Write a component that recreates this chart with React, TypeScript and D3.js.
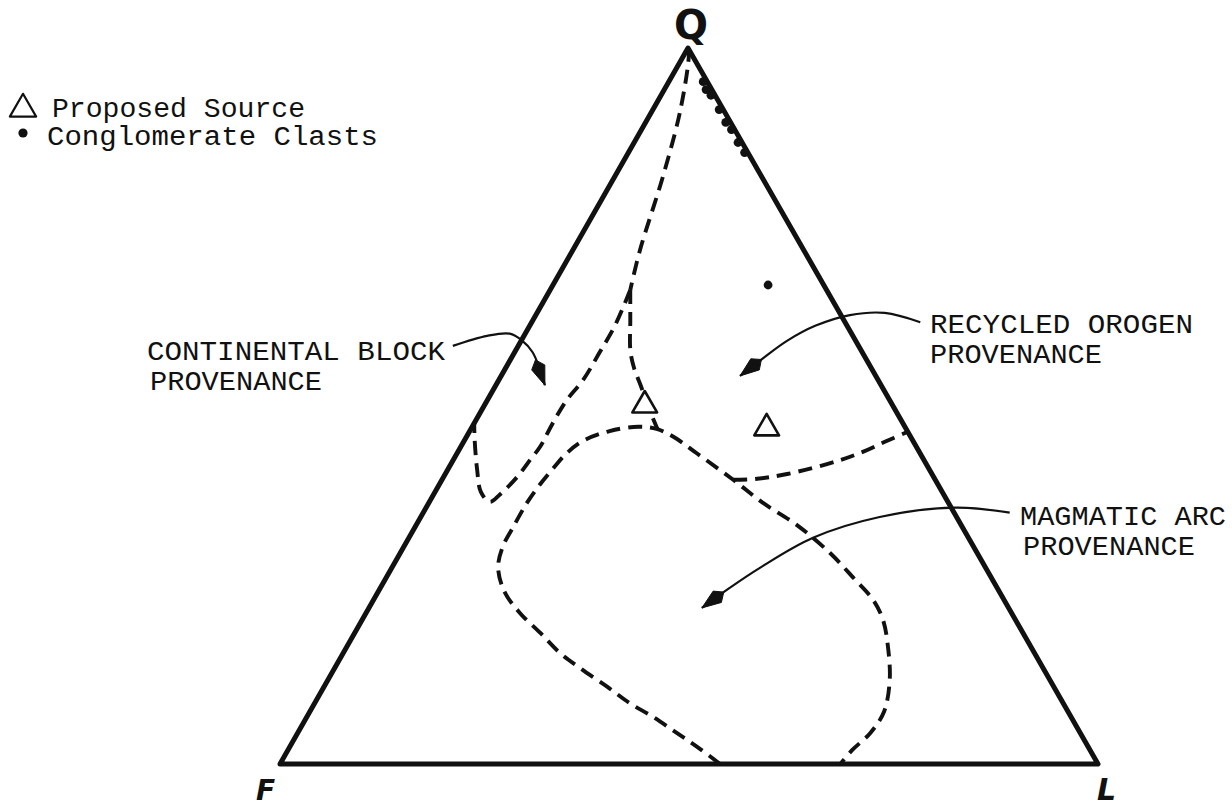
import React from 'react';
import * as d3 from 'd3';

const W = 1232;
const H = 809;

// Screen positions of the three ternary end members
const apexQ = { x: 688, y: 48 };
const cornerF = { x: 280, y: 764 };
const cornerL = { x: 1098, y: 764 };

// All compositions below are [Q, F, L] in percent
const vertexNames = ['Q', 'F', 'L'];

// Shared field boundary running down from the Q pole
const sharedStem: number[][] = [
  [100, 0, 0], [99.0, 0.4, 0.6], [91.3, 5.3, 3.4], [82.0, 12.1, 5.9],
  [71.8, 20.0, 8.2], [66.2, 24.0, 9.8],
];

// Continental block field: branch from the stem that hooks back to the Q-F edge
const continentalBoundary: number[][] = [
  [66.2, 24.0, 9.8], [61.3, 28.3, 10.4], [57.5, 32.1, 10.4], [53.6, 36.1, 10.3],
  [50.8, 39.5, 9.7], [47.6, 42.8, 9.6], [44.3, 46.0, 9.7], [42.5, 48.1, 9.4],
  [40.1, 50.9, 9.0], [37.6, 54.3, 8.1], [36.6, 56.0, 7.4], [38.0, 56.4, 5.6],
  [41.1, 55.3, 3.6], [45.3, 53.5, 1.2], [47.6, 52.4, 0],
];

// Recycled orogen field: western limit down to the magmatic arc field
const recycledWest: number[][] = [
  [66.2, 24.0, 9.8], [62.0, 26.1, 11.9], [57.8, 28.2, 14.0], [55.3, 29.0, 15.7],
  [52.9, 29.4, 17.7], [50.8, 29.8, 19.4], [48.3, 30.2, 21.5], [46.8, 30.4, 22.8],
];

// Recycled orogen field: southern limit out to the Q-L edge
const recycledSouth: number[][] = [
  [39.7, 24.7, 35.6], [39.8, 22.0, 38.2], [40.5, 17.7, 41.8], [42.3, 10.7, 47.0],
  [43.6, 6.9, 49.5], [45.0, 3.5, 51.5], [46.4, 0, 53.6],
];

// Magmatic arc field, open along the F-L edge
const magmaticBoundary: number[][] = [
  [0, 46.2, 53.8], [2.4, 47.8, 49.8], [4.3, 49.3, 46.4], [6.6, 51.1, 42.3],
  [8.5, 53.0, 38.5], [10.8, 54.6, 34.6], [13.4, 56.6, 30.0], [15.5, 58.0, 26.5],
  [18.3, 59.0, 22.7], [21.1, 60.1, 18.8], [24.0, 60.5, 15.5], [27.4, 59.6, 13.0],
  [30.3, 57.6, 12.1], [33.1, 54.9, 12.0], [36.5, 51.5, 12.0], [39.0, 48.7, 12.3],
  [41.3, 45.9, 12.8], [43.4, 43.2, 13.4], [45.1, 40.4, 14.5], [46.5, 36.4, 17.1],
  [47.1, 32.6, 20.3], [46.8, 30.5, 22.7], [45.7, 29.0, 25.3], [43.4, 27.3, 29.3],
  [39.7, 24.7, 35.6], [36.5, 22.7, 40.8], [33.4, 20.1, 46.5], [29.5, 18.0, 52.5],
  [26.1, 16.9, 57.0], [22.9, 16.0, 61.1], [20.1, 16.2, 63.7], [16.3, 17.5, 66.2],
  [11.7, 19.6, 68.7], [7.3, 22.5, 70.2], [4.3, 25.7, 70.0], [2.0, 29.0, 69.0],
  [0, 31.5, 68.5],
];

// Sample compositions
const proposedSources: number[][] = [
  [50.1, 30.3, 19.6], [46.9, 17.0, 36.1],
];
const conglomerateClasts: number[][] = [
  [95.3, 0.5, 4.2], [94.2, 0.7, 5.1], [93.4, 0.5, 6.1], [91.4, 0.5, 8.1],
  [89.6, 0.6, 9.8], [88.6, 0.4, 11.0], [86.8, 0.5, 12.7], [85.4, 0.4, 14.2],
  [66.9, 6.8, 26.3],
];

// Field names and the leader curves pointing into each field
const fieldNames: string[][] = [
  ['CONTINENTAL BLOCK', 'PROVENANCE'],
  ['RECYCLED OROGEN', 'PROVENANCE'],
  ['MAGMATIC ARC', 'PROVENANCE'],
];
const fieldLeaders: number[][][] = [
  [[58.4, 49.6, -8.0], [59.8, 44.7, -4.5], [60.1, 41.8, -1.9], [59.2, 40.8, 0.0],
   [57.5, 40.3, 2.2], [52.9, 41.1, 6.0]],
  [[61.7, -9.2, 47.5], [63.0, -5.5, 42.5], [62.7, -1.1, 38.4], [61.2, 3.9, 34.9],
   [59.1, 8.4, 32.5], [56.7, 12.5, 30.8], [54.2, 16.6, 29.2]],
  [[35.1, -6.8, 71.7], [35.8, -0.5, 64.7], [34.5, 9.4, 56.1], [31.6, 19.0, 49.4],
   [27.4, 27.6, 45.0], [24.6, 32.7, 42.7], [21.8, 37.5, 40.7]],
];

const legendItems = ['Proposed Source', 'Conglomerate Clasts'];

// Text layout
const fieldLabelLayout = [
  { x: 147, y: 360, widths: [298, 172], indent: [0, 3] },
  { x: 930, y: 333, widths: [263, 172], indent: [0, 0] },
  { x: 1020, y: 525, widths: [206, 172], indent: [0, 3] },
];

const qyScale = d3.scaleLinear().domain([0, 100]).range([cornerF.y, apexQ.y]);
const lxScale = d3.scaleLinear().domain([0, 100]).range([0, cornerL.x - cornerF.x]);
const qxScale = d3.scaleLinear().domain([0, 100]).range([0, apexQ.x - cornerF.x]);

function project(c: number[]): [number, number] {
  const [q, , l] = c;
  return [cornerF.x + lxScale(l) + qxScale(q), qyScale(q)];
}

const smooth = d3
  .line<number[]>()
  .x((c) => project(c)[0])
  .y((c) => project(c)[1])
  .curve(d3.curveCatmullRom.alpha(0.5));

const straight = d3.line<[number, number]>().curve(d3.curveLinearClosed);

function arrowHead(points: number[][]): string {
  const tip = project(points[points.length - 1]);
  const prev = project(points[points.length - 2]);
  const dx = tip[0] - prev[0];
  const dy = tip[1] - prev[1];
  const len = Math.hypot(dx, dy) || 1;
  const ux = dx / len;
  const uy = dy / len;
  const nx = -uy;
  const ny = ux;
  const at = (back: number, side: number): [number, number] => [
    tip[0] - ux * back + nx * side,
    tip[1] - uy * back + ny * side,
  ];
  return straight([at(0, 0), at(19, 7), at(27, 0), at(19, -7)]) || '';
}

const FONT = '"Liberation Mono", "DejaVu Sans Mono", monospace';
const INK = '#111';

export default function App() {
  const frame = straight([
    [apexQ.x, apexQ.y],
    [cornerL.x, cornerL.y],
    [cornerF.x, cornerF.y],
  ]) || '';
  const triSym = d3.symbol().type(d3.symbolTriangle).size(265)() || '';
  const legendTri = d3.symbol().type(d3.symbolTriangle).size(300)() || '';
  const dash = { fill: 'none', stroke: INK, strokeWidth: 3.9, strokeDasharray: '14 8' };

  return (
    <svg
      width={W}
      height={H}
      viewBox={`0 0 ${W} ${H}`}
      style={{ position: 'absolute', left: 0, top: 0, background: '#fff' }}
    >
      <rect width={W} height={H} fill="#fff" />

      {/* field boundaries */}
      <path d={smooth(sharedStem) || ''} {...dash} />
      <path d={smooth(continentalBoundary) || ''} {...dash} />
      <path d={smooth(recycledWest) || ''} {...dash} />
      <path d={smooth(recycledSouth) || ''} {...dash} />
      <path d={smooth(magmaticBoundary) || ''} {...dash} />

      {/* leaders */}
      {fieldLeaders.map((pts, i) => (
        <g key={`lead-${i}`}>
          <path d={smooth(pts) || ''} fill="none" stroke={INK} strokeWidth={2.2} />
          <path d={arrowHead(pts)} fill={INK} stroke={INK} strokeWidth={1} strokeLinejoin="round" />
        </g>
      ))}

      {/* triangle frame */}
      <path d={frame} fill="none" stroke={INK} strokeWidth={5} strokeLinejoin="round" />

      {/* samples */}
      {conglomerateClasts.map((c, i) => {
        const [x, y] = project(c);
        return <circle key={`cl-${i}`} cx={x} cy={y} r={4.4} fill={INK} />;
      })}
      {proposedSources.map((c, i) => {
        const [x, y] = project(c);
        return (
          <path
            key={`ps-${i}`}
            d={triSym}
            transform={`translate(${x},${y})`}
            fill="#fff"
            stroke={INK}
            strokeWidth={2.6}
            strokeLinejoin="round"
          />
        );
      })}

      {/* vertex letters */}
      <text x={691} y={39} textAnchor="middle" fontFamily='"DejaVu Sans", sans-serif' fontWeight="bold" fontSize={40} fill={INK}>
        {vertexNames[0]}
      </text>
      <text x={256} y={800} fontFamily='"DejaVu Sans", sans-serif' fontWeight="bold" fontStyle="italic" fontSize={28} fill={INK}>
        {vertexNames[1]}
      </text>
      <text x={1097} y={800} fontFamily='"DejaVu Sans", sans-serif' fontWeight="bold" fontStyle="italic" fontSize={30} fill={INK}>
        {vertexNames[2]}
      </text>

      {/* field labels */}
      {fieldNames.map((lines, i) => {
        const lay = fieldLabelLayout[i];
        return (
          <g key={`fl-${i}`}>
            {lines.map((t, j) => (
              <text
                key={j}
                x={lay.x + lay.indent[j]}
                y={lay.y + j * 30}
                fontFamily={FONT}
                fontSize={27}
                textLength={lay.widths[j]}
                lengthAdjust="spacingAndGlyphs"
                fill={INK}
              >
                {t}
              </text>
            ))}
          </g>
        );
      })}

      {/* legend */}
      <path d={legendTri} transform="translate(23,109)" fill="none" stroke={INK} strokeWidth={2.2} strokeLinejoin="round" />
      <text x={52} y={117} fontFamily={FONT} fontSize={27} textLength={253} lengthAdjust="spacingAndGlyphs" fill={INK}>
        {legendItems[0]}
      </text>
      <circle cx={23} cy={133} r={4.6} fill={INK} />
      <text x={47} y={145} fontFamily={FONT} fontSize={27} textLength={331} lengthAdjust="spacingAndGlyphs" fill={INK}>
        {legendItems[1]}
      </text>
    </svg>
  );
}
